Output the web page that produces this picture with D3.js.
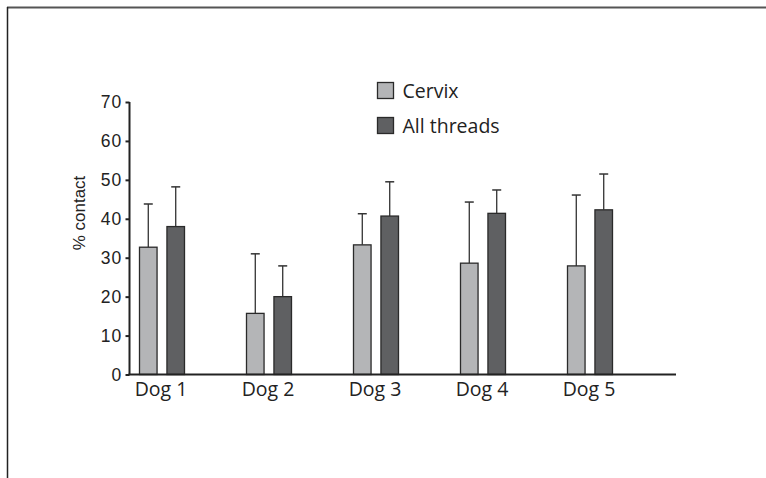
<!DOCTYPE html>
<html><head><meta charset="utf-8">
<script src="https://cdn.jsdelivr.net/npm/d3@7"></script>
<style>body{margin:0;background:#fff}svg{display:block}</style>
</head><body>
<script>
const dogs = ["Dog 1","Dog 2","Dog 3","Dog 4","Dog 5"];
const seriesNames = ["Cervix","All threads"];
const cervixMean = [32.7, 15.7, 33.3, 28.6, 27.9];
const cervixErr  = [43.8, 31.0, 41.3, 44.3, 46.1];
const threadsMean = [38.0, 20.0, 40.7, 41.4, 42.3];
const threadsErr  = [48.2, 27.9, 49.5, 47.4, 51.5];
const yTicks = [0,10,20,30,40,50,60,70];
const colors = ["#b4b5b7", "#5f6062"];

const W = 766, H = 478;
const svg = d3.select("body").append("svg").attr("width", W).attr("height", H);

// frame
svg.append("line").attr("x1",7).attr("x2",766).attr("y1",7.5).attr("y2",7.5).attr("stroke","#555").attr("stroke-width",2);
svg.append("line").attr("x1",7.5).attr("x2",7.5).attr("y1",7).attr("y2",478).attr("stroke","#222").attr("stroke-width",1.5);

const y = d3.scaleLinear().domain([0,70]).range([374.5,102]);
const x = d3.scaleBand().domain(dogs).range([108.5, 643.5]);
const xs = d3.scaleBand().domain(seriesNames).range([-22.5, 22.5]).paddingInner(0.36).paddingOuter(0);

const data = dogs.map((d,i)=>({dog:d, vals:[
  {s:"Cervix", m:cervixMean[i], e:cervixErr[i]},
  {s:"All threads", m:threadsMean[i], e:threadsErr[i]}]}));

const g = svg.append("g");
const groups = g.selectAll("g.grp").data(data).join("g")
  .attr("transform", d=>`translate(${x(d.dog)+x.bandwidth()/2},0)`);

// error bars
groups.selectAll("g.err").data(d=>d.vals).join("g").each(function(v){
  const cx = xs(v.s)+xs.bandwidth()/2;
  const sel = d3.select(this);
  sel.append("line").attr("x1",cx).attr("x2",cx).attr("y1",y(v.m)).attr("y2",y(v.e)).attr("stroke","#333").attr("stroke-width",1.3);
  sel.append("line").attr("x1",cx-4.5).attr("x2",cx+4.5).attr("y1",y(v.e)).attr("y2",y(v.e)).attr("stroke","#333").attr("stroke-width",1.5);
});

groups.selectAll("rect").data(d=>d.vals).join("rect")
  .attr("x", v=>xs(v.s))
  .attr("width", xs.bandwidth())
  .attr("y", v=>y(v.m))
  .attr("height", v=>y(0)-y(v.m))
  .attr("fill", v=>colors[seriesNames.indexOf(v.s)])
  .attr("stroke","#2a2a2a").attr("stroke-width",1.3);

// y axis
const yAxis = svg.append("g").attr("transform","translate(129.5,0)")
  .call(d3.axisLeft(y).tickValues(yTicks).tickSize(4).tickPadding(3));
yAxis.select(".domain").attr("stroke","#222").attr("stroke-width",2).attr("d",`M0,${y(70)}V${y(0)}`);
yAxis.selectAll(".tick line").attr("stroke","#222").attr("stroke-width",2);
yAxis.selectAll(".tick text").attr("font-family","'Liberation Sans', Arial, sans-serif").attr("font-size",17.5)
  .attr("letter-spacing","1.2px").attr("fill","#222");

// x axis line
svg.append("line").attr("x1",128.5).attr("x2",676).attr("y1",y(0)).attr("y2",y(0)).attr("stroke","#222").attr("stroke-width",2);

// x labels
svg.append("g").selectAll("text").data(dogs).join("text")
  .attr("x", d=>x(d)+x.bandwidth()/2 - 1)
  .attr("y", 396)
  .attr("text-anchor","middle")
  .attr("font-family","'Open Sans', sans-serif").attr("font-size",19.5).attr("fill","#222")
  .text(d=>d);

// y label
svg.append("text").attr("transform","translate(84.5,213) rotate(-90)")
  .attr("text-anchor","middle")
  .attr("font-family","'Liberation Sans', Arial, sans-serif").attr("font-size",17).attr("fill","#222")
  .text("% contact");

// legend
const leg = svg.append("g").selectAll("g").data(seriesNames).join("g")
  .attr("transform",(d,i)=>`translate(377.5,${82.5+i*35})`);
leg.append("rect").attr("width",16).attr("height",16)
  .attr("fill",(d,i)=>colors[i]).attr("stroke","#2a2a2a").attr("stroke-width",1.3);
leg.append("text").attr("x",25).attr("y",15.5)
  .attr("font-family","'Open Sans', sans-serif").attr("font-size",19.5).attr("fill","#222")
  .text(d=>d);
</script>
</body></html>
